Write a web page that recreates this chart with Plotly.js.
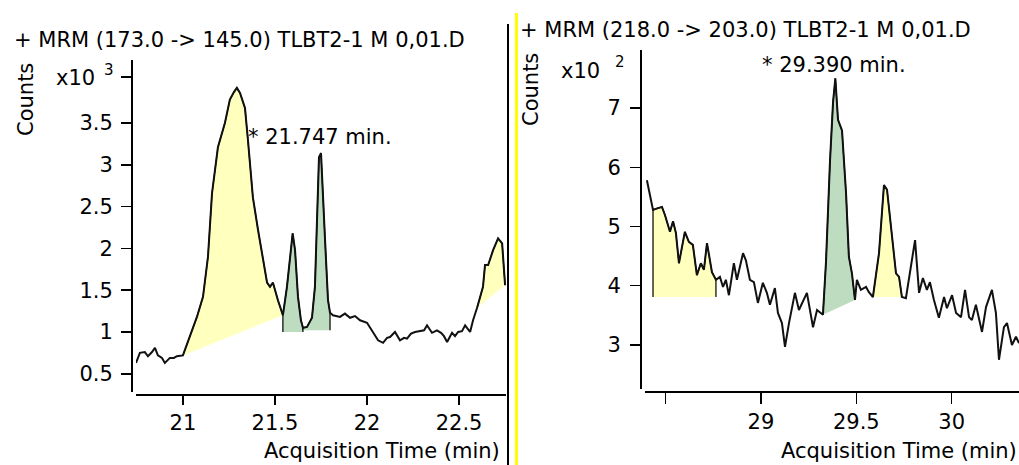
<!DOCTYPE html>
<html>
<head>
<meta charset="utf-8">
<script src="https://cdn.plot.ly/plotly-3.0.1.min.js"></script>
<style>html,body{margin:0;padding:0;background:#fff;}#chart{width:1019px;height:465px;}</style>
</head>
<body>
<div id="chart"></div>
<script>
// ---- Data: left chromatogram, MRM (173.0 -> 145.0), counts x10^3 ----
const time1 = [20.745,20.766,20.793,20.810,20.832,20.848,20.864,20.886,20.902,20.929,20.951,20.967,
  21.000,21.038,21.076,21.109,21.136,21.158,21.190,21.228,21.255,21.277,21.293,21.310,21.321,21.337,
  21.353,21.380,21.408,21.435,21.457,21.473,21.489,21.516,21.543,21.565,21.582,21.596,21.609,21.625,
  21.641,21.652,21.674,21.701,21.717,21.728,21.739,21.750,21.761,21.772,21.788,21.799,21.815,21.853,
  21.880,21.908,21.935,21.962,22.000,22.033,22.060,22.087,22.109,22.125,22.152,22.179,22.201,22.217,
  22.239,22.261,22.288,22.310,22.326,22.353,22.380,22.402,22.418,22.435,22.462,22.478,22.495,22.516,
  22.533,22.560,22.576,22.598,22.630,22.641,22.658,22.685,22.712,22.734,22.750];
const counts1 = [0.63,0.75,0.76,0.71,0.76,0.81,0.72,0.69,0.63,0.69,0.69,0.71,
  0.72,0.94,1.18,1.42,1.90,2.66,3.21,3.50,3.78,3.87,3.92,3.86,3.78,3.68,
  3.30,2.61,2.22,1.86,1.59,1.54,1.59,1.38,1.20,1.54,1.94,2.18,1.98,1.42,
  1.14,1.05,1.06,1.17,1.54,2.42,3.09,3.14,2.70,2.10,1.38,1.23,1.20,1.18,
  1.22,1.17,1.19,1.14,1.11,1.00,0.90,0.87,0.93,0.94,1.00,0.90,0.93,0.92,
  0.98,1.00,1.01,1.02,1.08,0.99,1.02,0.99,0.95,0.88,0.99,0.95,1.00,1.01,
  1.08,1.00,1.14,1.29,1.54,1.80,1.80,1.98,2.12,2.06,1.56];
// integrated peaks (start, end, baseline at start/end; null = straight line between trace ends)
const peakStart1 = [21.000, 21.543, 21.652, 22.598];
const peakEnd1   = [21.543, 21.652, 21.799, 22.750];
const peakBase1  = [null, 1.00, 1.02, null];
const peakKind1  = ['other', 'target', 'target', 'other'];

// ---- Data: right chromatogram, MRM (218.0 -> 203.0), counts x10^2 ----
const time2 = [28.402,28.418,28.434,28.460,28.481,28.497,28.523,28.539,28.554,28.570,28.601,28.622,
  28.643,28.664,28.685,28.701,28.717,28.743,28.764,28.785,28.801,28.816,28.832,28.858,28.874,28.906,
  28.921,28.942,28.963,28.984,29.010,29.031,29.047,29.073,29.089,29.110,29.126,29.147,29.178,29.199,
  29.241,29.273,29.294,29.325,29.341,29.362,29.378,29.390,29.404,29.425,29.446,29.461,29.477,29.493,
  29.503,29.524,29.551,29.566,29.587,29.619,29.645,29.661,29.682,29.708,29.724,29.739,29.760,29.787,
  29.808,29.829,29.849,29.870,29.886,29.907,29.933,29.960,29.975,30.002,30.023,30.049,30.070,30.091,
  30.106,30.127,30.159,30.180,30.211,30.232,30.248,30.274,30.290,30.316,30.337,30.353];
const counts2 = [5.78,5.50,5.28,5.31,5.33,5.19,4.91,5.09,4.89,4.38,4.91,4.74,
  4.69,4.18,4.38,4.27,4.72,4.23,4.10,4.15,3.98,4.10,3.84,4.38,4.10,4.55,
  4.43,4.10,4.06,3.71,4.05,3.88,3.68,3.96,3.54,3.37,2.97,3.37,3.88,3.59,
  3.88,3.30,3.59,3.51,4.40,6.10,7.10,7.50,6.80,6.62,5.57,4.49,4.21,3.76,
  4.10,3.93,3.98,3.89,3.81,4.55,5.70,5.62,4.99,4.21,4.15,3.81,3.79,4.32,
  4.77,3.88,4.13,3.93,4.06,3.76,3.46,3.81,3.62,3.84,3.54,3.47,3.93,3.47,
  3.42,3.68,3.22,3.64,3.93,3.54,2.75,3.30,3.37,3.00,3.14,3.03];
const peakStart2 = [28.434, 29.325, 29.587];
const peakEnd2   = [28.764, 29.493, 29.739];
const peakBase2  = [3.81, null, 3.81];
const peakKind2  = ['other', 'target', 'other'];

// ---- Tick labels ----
const xTicks1 = [21, 21.5, 22, 22.5];
const xTickText1 = ['21', '21.5', '22', '22.5'];
const yTicks1 = [0.5, 1, 1.5, 2, 2.5, 3, 3.5];
const yTickText1 = ['0.5', '1', '1.5', '2', '2.5', '3', '3.5'];
const yMinorTicks1 = [4.05];
const xTicks2 = [29, 29.5, 30];
const xTickText2 = ['29', '29.5', '30'];
const xMinorTicks2 = [28.5];
const yTicks2 = [3, 4, 5, 6, 7];
const yTickText2 = ['3', '4', '5', '6', '7'];
const expBase = 'x10';
const expPower1 = '3';
const expPower2 = '2';

const title1 = '+ MRM (173.0 -> 145.0) TLBT2-1 M 0,01.D';
const title2 = '+ MRM (218.0 -> 203.0) TLBT2-1 M 0,01.D';
const label1 = '* 21.747 min.';
const label2 = '* 29.390 min.';
const yTitle = 'Counts';
const xTitle = 'Acquisition Time (min)';

// ---- Build ----
const W = 1019, H = 465;
const px = x => x / W;
const py = y => 1 - y / H;
const FILL = {other: '#ffffbe', target: '#bedcc0'};

function peakPolygon(t, c, t0, t1, base) {
  const xs = [], ys = [];
  for (let i = 0; i < t.length; i++) {
    if (t[i] >= t0 - 1e-9 && t[i] <= t1 + 1e-9) { xs.push(t[i]); ys.push(c[i]); }
  }
  if (base !== null) { xs.unshift(t0); ys.unshift(base); xs.push(t1); ys.push(base); }
  return {xs, ys};
}

const traces = [];
function addPanel(t, c, starts, ends, bases, kinds, xa, ya) {
  for (let k = 0; k < starts.length; k++) {
    const p = peakPolygon(t, c, starts[k], ends[k], bases[k]);
    traces.push({x: p.xs, y: p.ys, xaxis: xa, yaxis: ya, type: 'scatter', mode: 'lines',
      fill: 'toself', fillcolor: FILL[kinds[k]], line: {color: '#000', width: 1.2}, hoverinfo: 'skip'});
  }
  traces.push({x: t, y: c, xaxis: xa, yaxis: ya, type: 'scatter', mode: 'lines',
    line: {color: '#111', width: 2}, hoverinfo: 'skip'});
}
addPanel(time1, counts1, peakStart1, peakEnd1, peakBase1, peakKind1, 'x', 'y');
addPanel(time2, counts2, peakStart2, peakEnd2, peakBase2, peakKind2, 'x2', 'y2');

const FONT = 'DejaVu Sans, Liberation Sans, Arial, sans-serif';
const axisCommon = {
  showline: true, linecolor: '#000', linewidth: 2, ticks: 'outside', tickwidth: 1.5,
  tickcolor: '#000', showgrid: false, zeroline: false, tickmode: 'array',
  tickfont: {family: FONT, size: 21, color: '#000'}, fixedrange: true
};
const minorTicks = (vals, len) => ({tickmode: 'array', tickvals: vals, ticks: 'outside', ticklen: len,
  tickwidth: 1.5, tickcolor: '#000', showgrid: false});

function note(text, x, y, xanchor, extra) {
  return Object.assign({text: text, xref: 'paper', yref: 'paper', x: px(x), y: py(y),
    xanchor: xanchor, yanchor: 'middle', showarrow: false}, extra || {});
}

const layout = {
  width: W, height: H, margin: {l: 0, r: 0, t: 0, b: 0},
  paper_bgcolor: '#fff', plot_bgcolor: '#fff', showlegend: false,
  font: {family: FONT, size: 21, color: '#000'},
  xaxis: Object.assign({}, axisCommon, {domain: [px(136), px(506)], range: [20.745, 22.755],
    anchor: 'free', position: py(395), ticklen: 9, tickvals: xTicks1, ticktext: xTickText1}),
  yaxis: Object.assign({}, axisCommon, {domain: [py(392), py(60)], range: [0.282, 4.254],
    anchor: 'free', position: px(132), ticklen: 10, ticklabelstandoff: 4, tickvals: yTicks1, ticktext: yTickText1,
    minor: minorTicks(yMinorTicks1, 10)}),
  xaxis2: Object.assign({}, axisCommon, {domain: [px(645), 1], range: [28.392, 30.353],
    anchor: 'free', position: py(392), ticklen: 11, tickvals: xTicks2, ticktext: xTickText2,
    minor: minorTicks(xMinorTicks2, 11)}),
  yaxis2: Object.assign({}, axisCommon, {domain: [py(389), py(50)], range: [2.257, 7.979],
    anchor: 'free', position: px(641), ticklen: 10, ticklabelstandoff: 5, tickvals: yTicks2, ticktext: yTickText2}),
  shapes: [
    {type: 'line', xref: 'paper', yref: 'paper', x0: px(508), x1: px(508), y0: py(24), y1: 0,
      line: {color: '#000', width: 2}},
    {type: 'line', xref: 'paper', yref: 'paper', x0: px(516.5), x1: px(516.5), y0: py(13), y1: 0,
      line: {color: '#ffff00', width: 3}}
  ],
  annotations: [
    note(title1, 12, 40, 'left'),
    note(title2, 518, 30, 'left'),
    note(yTitle, 26, 100, 'center', {textangle: -90}),
    note(yTitle, 531, 90, 'center', {textangle: -90}),
    note(expBase, 97, 78, 'right'),
    note(expPower1, 102, 70, 'left', {font: {family: FONT, size: 15, color: '#000'}}),
    note(expBase, 602, 71, 'right'),
    note(expPower2, 613, 62, 'left', {font: {family: FONT, size: 15, color: '#000'}}),
    note(label1, 246, 137, 'left'),
    note(label2, 760, 65, 'left'),
    note(xTitle, 502, 451, 'right'),
    note(xTitle, 1019, 451, 'right')
  ]
};

Plotly.newPlot('chart', traces, layout, {staticPlot: true, displayModeBar: false});
</script>
</body>
</html>
